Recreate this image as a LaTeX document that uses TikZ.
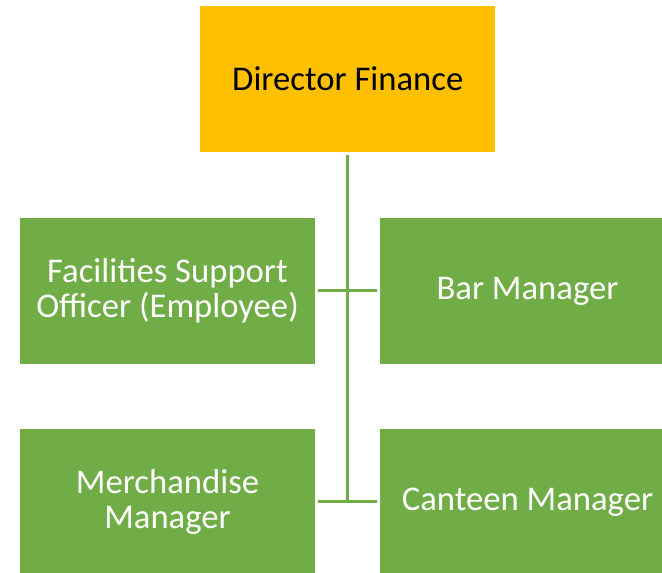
\documentclass[tikz,border=0pt]{standalone}
\usepackage{fontspec}
\setmainfont{Carlito}
\definecolor{staffgreen}{HTML}{70AD47}
\definecolor{headgold}{HTML}{FFC000}
\begin{document}
\begin{tikzpicture}[x=0.75pt, y=-0.75pt, every node/.style={minimum width=221.25pt,minimum height=109.5pt,inner sep=0pt,align=center,font=\fontsize{26}{26}\selectfont}, staff/.style={fill=staffgreen,text=white}, link/.style={draw=staffgreen,line width=2.25pt}]
          \useasboundingbox (0,0) rectangle (662,573);
          \clip (0,0) rectangle (662,573);
          \node [fill=headgold] (dir) at (347.8,79) {Director Finance};
          \node [staff] (fso) at (167.5,291) {Facilities Support\\Officer (Employee)};
          \node [staff] (bar) at (527.5,291) {Bar Manager};
          \node [staff] (merch) at (167.5,502) {Merchandise\\Manager};
          \node [staff] (canteen) at (527.5,502) {Canteen Manager};
          \coordinate (low) at (347.8,503);
          \draw [link, shorten <=2.25pt] (dir) -- (low);
          \draw [link, shorten <=2pt, shorten >=2pt] (fso) -- (bar);
          \draw [link, shorten <=2pt, shorten >=2pt] (merch) -- (canteen);
        \end{tikzpicture}
\end{document}
